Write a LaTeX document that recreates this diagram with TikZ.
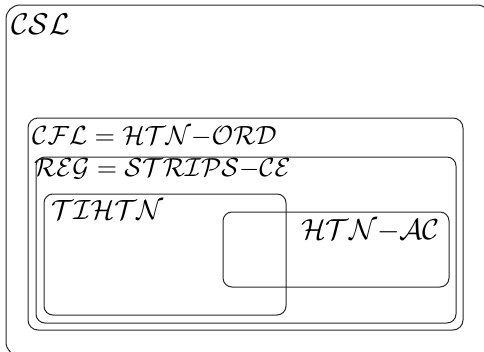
\documentclass[tikz,border=0pt]{standalone}
\usepackage{amsmath}
\usepackage{graphicx}
\newcommand{\sclbl}[2]{\scalebox{#1}{$#2$}}
\begin{document}
\begin{tikzpicture}[x=1pt,y=-1pt,
  setbox/.style={draw=black!85, line width=1pt},
  lbl/.style={anchor=base west, inner sep=0pt, font=\fontsize{10}{12}\selectfont}]
\useasboundingbox (0,0) rectangle (484,351);
\draw[setbox, rounded corners=14pt] (6,5) rectangle (491,356);
\draw[setbox, rounded corners=10pt] (28,118) rectangle (463,330);
\draw[setbox, rounded corners=9pt] (36,157) rectangle (456,323);
\draw[setbox, rounded corners=9pt] (44,194) rectangle (286,315);
\draw[setbox, rounded corners=9pt] (223,212) rectangle (449,287);
\node[lbl] (csl) at (11,34) {\sclbl{3.0}{\mathcal{CSL}}};
\node[lbl] (cfl) at (32,144) {\sclbl{2.63}{\mathcal{CFL}=\mathcal{HTN}{-}\mathcal{ORD}}};
\node[lbl] (reg) at (34,176) {\sclbl{2.61}{\mathcal{REG}=\mathcal{STRIPS}{-}\mathcal{CE}}};
\node[lbl] (tihtn) at (51,219) {\sclbl{2.78}{\mathcal{TIHTN}}};
\node[lbl] (htnac) at (301,239) {\sclbl{2.9}{\mathcal{HTN}{-}\mathcal{AC}}};
\end{tikzpicture}
\end{document}
